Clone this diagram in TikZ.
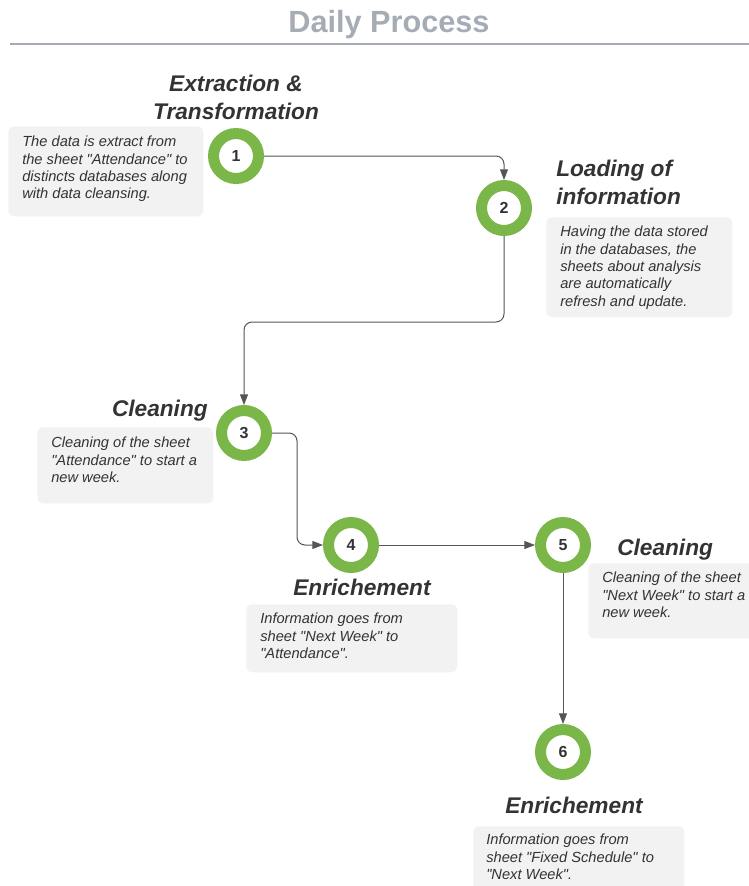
\documentclass[tikz,border=0pt]{standalone}
\usepackage{fontspec}
\setmainfont{Liberation Sans}[Ligatures=TeXOff]
\usetikzlibrary{arrows.meta}
\definecolor{ringgreen}{HTML}{7AB648}
\definecolor{boxfill}{HTML}{F2F2F2}
\definecolor{txt}{HTML}{333333}
\definecolor{headgray}{HTML}{A5ACB6}
\definecolor{linegray}{HTML}{555555}
\begin{document}
\begin{tikzpicture}[x=0.75pt,y=-0.75pt,
  ringnode/.style={circle, draw=ringgreen, line width=8.25pt, fill=white,
    minimum size=33.75pt, inner sep=0pt, text=txt,
    font=\fontsize{12}{14}\selectfont\bfseries},
  ttl/.style={inner sep=0pt, text=txt, font=\fontsize{17}{20.6}\selectfont\bfseries\itshape},
  desc/.style={inner sep=0pt, align=left, text=txt, font=\fontsize{11}{13}\selectfont\itshape},
  bx/.style={rectangle, rounded corners=4pt, fill=boxfill, inner sep=0pt, anchor=north west},
  conn/.style={draw=linegray, line width=0.75pt, rounded corners=6pt,
    -{Triangle[length=8pt,width=6pt]}},
]
\useasboundingbox (0,0) rectangle (749,886);
\clip (0,0) rectangle (749,886);

% header
\node[inner sep=0pt, anchor=base, text=headgray, font=\fontsize{23}{26}\selectfont\bfseries] (head) at (389,32) {Daily Process};
\coordinate (rl) at (10,44);
\coordinate (rr) at (749,44);
\draw[headgray, line width=1.5pt] (rl) -- (rr);

% boxes
\node[bx, minimum width=195*0.75pt, minimum height=90*0.75pt] (b1) at (8,126) {};
\node[bx, minimum width=186*0.75pt, minimum height=100*0.75pt] (b2) at (546,217) {};
\node[bx, minimum width=176*0.75pt, minimum height=76*0.75pt] (b3) at (37,427) {};
\node[bx, minimum width=211*0.75pt, minimum height=68*0.75pt] (b4) at (246,604) {};
\node[bx, minimum width=172*0.75pt, minimum height=75*0.75pt] (b5) at (588,563) {};
\node[bx, minimum width=211*0.75pt, minimum height=80*0.75pt] (b6) at (473,826) {};

% descriptions
\node[desc, anchor=north west] (t1) at (22,136) {The data is extract from\\the sheet "Attendance" to\\distincts databases along\\with data cleansing.};
\node[desc, anchor=north west] (t2) at (560,226) {Having the data stored\\in the databases, the\\sheets about analysis\\are automatically\\refresh and update.};
\node[desc, anchor=north west] (t3) at (51,437) {Cleaning of the sheet\\"Attendance" to start a\\new week.};
\node[desc, anchor=north west] (t4) at (260,613) {Information goes from\\sheet "Next Week" to\\"Attendance".};
\node[desc, anchor=north west] (t5) at (602,572) {Cleaning of the sheet\\"Next Week" to start a\\new week.};
\node[desc, anchor=north west] (t6) at (486,834) {Information goes from\\sheet "Fixed Schedule" to\\"Next Week".};

% titles
\node[ttl, align=center, anchor=north] (h1) at (236,75) {Extraction \&\\Transformation};
\node[ttl, align=left, anchor=north west] (h2) at (556,160) {Loading of\\information};
\node[ttl, anchor=base east] (h3) at (208,416) {Cleaning};
\node[ttl, anchor=base] (h4) at (362,595) {Enrichement};
\node[ttl, anchor=base west] (h5) at (617,555) {Cleaning};
\node[ttl, anchor=base] (h6) at (574,813) {Enrichement};

% step circles
\node[ringnode] (c1) at (236,156) {1};
\node[ringnode] (c2) at (504,208) {2};
\node[ringnode] (c3) at (244,433) {3};
\node[ringnode] (c4) at (351,545) {4};
\node[ringnode] (c5) at (563,545) {5};
\node[ringnode] (c6) at (563,752) {6};

% connectors
\coordinate (k23) at (380,322);
\coordinate (k34) at (297,490);
\draw[conn] (c1.east) -| (c2.north);
\draw[conn] (c2.south) |- (k23) -| (c3.north);
\draw[conn] (c3.east) -| (k34) |- (c4.west);
\draw[conn] (c4.east) -- (c5.west);
\draw[conn] (c5.south) -- (c6.north);
\end{tikzpicture}
\end{document}
